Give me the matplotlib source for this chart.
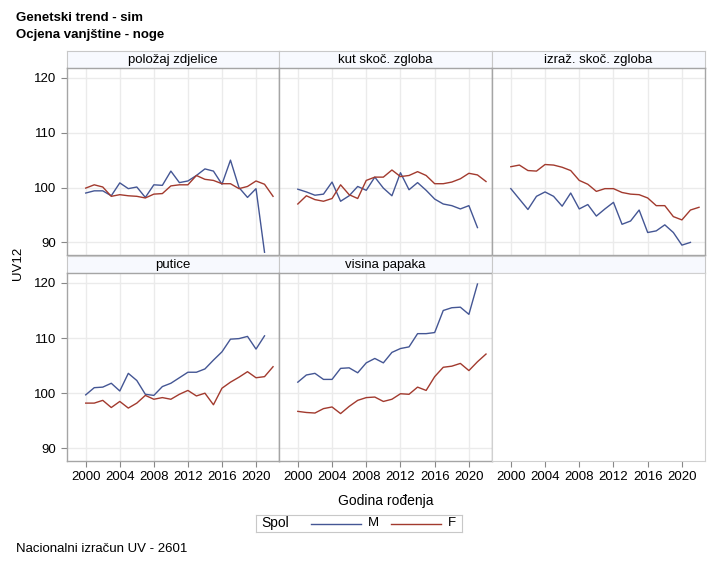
import numpy as np
import matplotlib.pyplot as plt

plt.rcParams['font.family'] = ['Liberation Sans', 'DejaVu Sans']

# godine i vrijednosti po svojstvu (M = muški, F = ženski)
years = np.arange(2000, 2023)

names = ['položaj zdjelice', 'kut skoč. zgloba', 'izraž. skoč. zgloba',
         'putice', 'visina papaka']

m_polozaj = [99.0, 99.4, 99.4, 98.5, 100.85, 99.8, 100.1, 98.2, 100.5, 100.4, 103.0,
             100.9, 101.2, 102.2, 103.4, 103.0, 100.6, 105.0, 100.0, 98.2, 99.8, 88.2]
f_polozaj = [99.9, 100.5, 100.1, 98.4, 98.7, 98.5, 98.4, 98.1, 98.8, 98.9, 100.3, 100.5,
             100.5, 102.2, 101.5, 101.3, 100.7, 100.7, 99.8, 100.2, 101.2, 100.6, 98.4]

m_kut = [99.7, 99.2, 98.6, 98.8, 101.0, 97.5, 98.5, 100.2, 99.5, 101.9, 99.9,
         98.5, 102.7, 99.6, 100.9, 99.5, 97.9, 97.0, 96.7, 96.1, 96.7, 92.7]
f_kut = [97.0, 98.5, 97.8, 97.5, 98.0, 100.5, 98.7, 98.0, 101.3, 101.9, 101.9, 103.2,
         102.0, 102.2, 102.9, 102.2, 100.7, 100.7, 101.0, 101.6, 102.6, 102.3, 101.1]

m_izraz = [99.8, 97.9, 96.0, 98.4, 99.2, 98.4, 96.6, 99.0, 96.1, 96.9, 94.8,
           96.1, 97.3, 93.3, 93.9, 95.9, 91.8, 92.1, 93.2, 91.8, 89.5, 90.0]
f_izraz = [103.8, 104.1, 103.1, 103.0, 104.2, 104.1, 103.7, 103.1, 101.3, 100.6, 99.3, 99.8,
           99.8, 99.1, 98.8, 98.7, 98.1, 96.7, 96.7, 94.7, 94.1, 95.9, 96.4]

m_putice = [99.7, 101.0, 101.1, 101.8, 100.4, 103.6, 102.3, 99.8, 99.6, 101.2, 101.8,
            102.8, 103.8, 103.8, 104.4, 106.0, 107.5, 109.8, 109.9, 110.3, 108.0, 110.4]
f_putice = [98.2, 98.2, 98.7, 97.4, 98.5, 97.3, 98.2, 99.6, 98.9, 99.2, 98.9, 99.8,
            100.5, 99.5, 100.0, 97.9, 100.9, 102.0, 102.9, 103.9, 102.8, 103.0, 104.8]

m_papci = [102.0, 103.3, 103.6, 102.5, 102.5, 104.5, 104.6, 103.7, 105.5, 106.3, 105.5,
           107.4, 108.1, 108.4, 110.8, 110.8, 111.0, 115.0, 115.5, 115.6, 114.3, 119.8]
f_papci = [96.7, 96.5, 96.4, 97.2, 97.5, 96.3, 97.6, 98.7, 99.2, 99.3, 98.5, 98.9,
           99.9, 99.8, 101.1, 100.5, 103.0, 104.7, 104.9, 105.4, 104.1, 105.7, 107.1]

m_all = [m_polozaj, m_kut, m_izraz, m_putice, m_papci]
f_all = [f_polozaj, f_kut, f_izraz, f_putice, f_papci]

xticks = [2000, 2004, 2008, 2012, 2016, 2020]
yticks = [90, 100, 110, 120]

BLUE = '#445694'
RED = '#A23A2E'
W, H = 718, 567

fig = plt.figure(figsize=(W / 100, H / 100), dpi=100)


def rect(x0, y0, x1, y1):
    # piksel koordinate (gore lijevo) -> koordinate figure
    return [x0 / W, 1 - y1 / H, (x1 - x0) / W, (y1 - y0) / H]


cols = [(67, 279), (279, 492), (492, 705)]
rows = [((51, 68), (68, 255)), ((256, 273), (273, 461))]

for r, (head, body) in enumerate(rows):
    for c, (x0, x1) in enumerate(cols):
        i = r * 3 + c
        # zaglavlje panela
        hx = fig.add_axes(rect(x0, head[0], x1, head[1]))
        hx.set_facecolor('#F7F9FE')
        hx.set_xticks([])
        hx.set_yticks([])
        for s in hx.spines.values():
            s.set_color('#C8C8C8')
        if i < len(names):
            hx.text(0.5, 0.45, names[i], ha='center', va='center', fontsize=9.5,
                    transform=hx.transAxes)

        ax = fig.add_axes(rect(x0, body[0], x1, body[1]))
        ax.set_xlim(1997.8, 2022.7)
        ax.set_ylim(87.7, 121.8)
        ax.set_xticks(xticks)
        ax.set_yticks(yticks)
        ax.tick_params(colors='#888888', labelcolor='black', labelsize=9.5, length=4)
        if i < len(names):
            ax.grid(True, color='#EBEBEB', lw=1)
            ax.set_axisbelow(True)
            ax.plot(years[:len(m_all[i])], m_all[i], color=BLUE, lw=1)
            ax.plot(years[:len(f_all[i])], f_all[i], color=RED, lw=1)
            for s in ax.spines.values():
                s.set_color('#A5A5A5')
                s.set_linewidth(1.0)
        else:
            for s in ax.spines.values():
                s.set_color('#D0D0D0')
        if c != 0:
            ax.tick_params(axis='y', left=False, labelleft=False)
        if r != 1:
            ax.tick_params(axis='x', bottom=False, labelbottom=False)

fig.text(16 / W, 1 - 18 / H, 'Genetski trend - sim', fontsize=9.5, fontweight='bold', va='center')
fig.text(16 / W, 1 - 35 / H, 'Ocjena vanjštine - noge', fontsize=9.5, fontweight='bold', va='center')
fig.text(16 / W, 1 - 549 / H, 'Nacionalni izračun UV - 2601', fontsize=9.5, va='center')
fig.text(18 / W, 1 - 263 / H, 'UV12', fontsize=9.5, rotation=90, ha='center', va='center')
fig.text(386 / W, 1 - 501 / H, 'Godina rođenja', fontsize=10, ha='center', va='center')

# legenda
lg = fig.add_axes(rect(256, 515, 462, 532))
lg.set_xlim(256, 462)
lg.set_ylim(0, 1)
lg.set_xticks([])
lg.set_yticks([])
for s in lg.spines.values():
    s.set_color('#C8C8C8')
lg.text(261, 0.5, 'Spol', fontsize=10, va='center')
lg.plot([311, 361], [0.5, 0.5], color=BLUE, lw=1)
lg.text(373, 0.5, 'M', fontsize=9.5, va='center', ha='center')
lg.plot([391, 441], [0.5, 0.5], color=RED, lw=1)
lg.text(452, 0.5, 'F', fontsize=9.5, va='center', ha='center')

fig.savefig('out.png', dpi=100)
